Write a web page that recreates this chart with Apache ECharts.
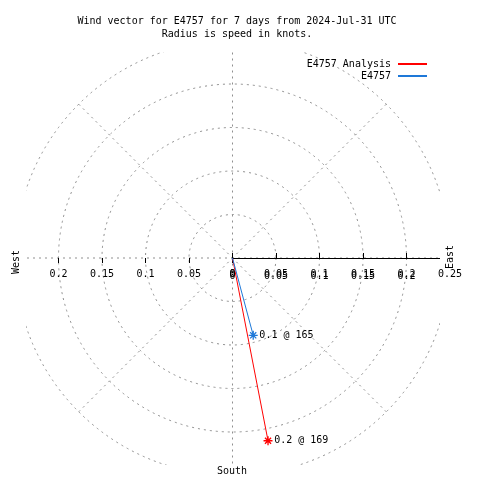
<!DOCTYPE html>
<html>
<head>
<meta charset="utf-8">
<script src="https://cdn.jsdelivr.net/npm/echarts@6/dist/echarts.min.js"></script>
<style>html,body{margin:0;padding:0;background:#fff}#c{width:480px;height:480px}</style>
</head>
<body>
<div id="c"></div>
<script>
// ---- data ----
const titleLines = ['Wind vector for E4757 for 7 days from 2024-Jul-31 UTC', 'Radius is speed in knots.'];
const seriesNames = ['E4757 Analysis', 'E4757'];
const speeds = [0.214, 0.092];      // knots
const directions = [169, 165];      // degrees, clockwise from north
const radiusMax = 0.25;
const radiusStep = 0.05;
const angleStep = 45;
const compassLabels = ['West', 'East', 'South'];

// ---- styling ----
const FONT = 'DejaVu Sans Mono';
const colors = ['#ff0000', '#1e78d8'];
const C = [232.5, 258];
const R = 217.5;
const gridColor = '#8f8f8f';
const asterisk = 'path://M5,0L5,10M0,5L10,5M1.6,1.6L8.4,8.4M1.6,8.4L8.4,1.6';

const hiddenAngle = (pi, start) => ({
  polarIndex: pi, type: 'value', min: 0, max: 360, startAngle: start,
  axisLine: {show: false}, axisTick: {show: false}, axisLabel: {show: false},
  splitLine: {show: false}, splitArea: {show: false}
});

const lblFmt = v => (v >= radiusMax - 1e-9 ? '' : String(+v.toFixed(2)));
const lblFmtAll = v => String(+v.toFixed(2));

const polars = [];
for (let i = 0; i < 6; i++) polars.push({center: C, radius: [0, R]});

const angleAxes = [
  { polarIndex: 0, type: 'value', min: 0, max: 360, interval: angleStep, startAngle: 90, clockwise: true,
    axisLine: {show: false}, axisTick: {show: false}, axisLabel: {show: false},
    splitLine: {show: true, lineStyle: {color: gridColor, type: [2, 4], width: 1}} },
  hiddenAngle(1, 0), hiddenAngle(2, 0), hiddenAngle(3, 0), hiddenAngle(4, 180), hiddenAngle(5, 180)
];

const baseR = (pi) => ({ polarIndex: pi, type: 'value', min: 0, max: radiusMax, interval: radiusStep,
  splitLine: {show: false}, splitArea: {show: false} });

const tickStyle = {color: '#000', width: 1};

const radiusAxes = [
  // grid circles
  Object.assign(baseR(0), { axisLine: {show: false}, axisTick: {show: false}, axisLabel: {show: false},
    splitLine: {show: true, lineStyle: {color: gridColor, type: [2, 4], width: 1}} }),
  // east solid axis, ticks up, labels copy 2
  Object.assign(baseR(1), { z: 0,
    axisLine: {show: true, lineStyle: {color: '#000', width: 1}},
    axisTick: {show: true, length: 4, lineStyle: tickStyle},
    axisLabel: {show: true, margin: -23, formatter: lblFmt, color: '#000', fontFamily: FONT, fontSize: 10} }),
  // east ticks down
  Object.assign(baseR(2), { z: 0, axisLine: {show: false},
    axisTick: {show: true, inside: true, length: 5, lineStyle: tickStyle},
    axisLabel: {show: false} }),
  // east labels copy 1 (above mask)
  Object.assign(baseR(3), { z: 3, axisLine: {show: false}, axisTick: {show: false},
    axisLabel: {show: true, margin: -21, formatter: lblFmtAll, color: '#000', fontFamily: FONT, fontSize: 10} }),
  // west ticks down + labels
  Object.assign(baseR(4), { z: 0, axisLine: {show: false},
    axisTick: {show: true, length: 5, lineStyle: tickStyle},
    axisLabel: {show: true, margin: 11, formatter: lblFmt, color: '#000', fontFamily: FONT, fontSize: 10} }),
  // west ticks up
  Object.assign(baseR(5), { z: 0, axisLine: {show: false},
    axisTick: {show: true, inside: true, length: 4, lineStyle: tickStyle},
    axisLabel: {show: false} })
];

const series = seriesNames.map((name, i) => ({
  name, type: 'line', coordinateSystem: 'polar', polarIndex: 0, z: 2,
  lineStyle: {color: colors[i], width: 1},
  itemStyle: {color: colors[i], borderColor: colors[i], borderWidth: 1.3},
  symbolSize: 9,
  animation: false,
  data: [
    {value: [0, 0], symbol: 'none'},
    {value: [speeds[i], directions[i]], symbol: asterisk,
     label: {show: true, position: 'right', distance: 1, color: '#000', fontFamily: FONT, fontSize: 10,
       formatter: p => p.value[0].toFixed(1) + ' @ ' + Math.round(p.value[1])}}
  ]
}));

const mask = (x, y, w, h) => ({type: 'rect', z: 1, silent: true, shape: {x, y, width: w, height: h}, style: {fill: '#fff'}});
const txt = (t, x, y, rot) => ({type: 'text', z: 10, x, y, rotation: rot || 0,
  style: {text: t, fill: '#000', font: '10px "' + FONT + '"', textAlign: 'center', textVerticalAlign: 'middle'}});

const chart = echarts.init(document.getElementById('c'));
chart.setOption({
  animation: false,
  backgroundColor: '#fff',
  title: {text: titleLines.join('\n'), left: 232, textAlign: 'center', top: 10, z: 6,
    textStyle: {fontFamily: FONT, fontSize: 10, fontWeight: 'normal', color: '#000', lineHeight: 13}},
  legend: {data: seriesNames, orient: 'vertical', align: 'right', right: 53, top: 58, padding: 0, itemGap: 0,
    icon: 'rect', itemWidth: 29, itemHeight: 2,
    itemStyle: {borderWidth: 0},
    textStyle: {fontFamily: FONT, fontSize: 10, color: '#000', lineHeight: 12, padding: [0, 2, 0, 0]}},
  polar: polars,
  angleAxis: angleAxes,
  radiusAxis: radiusAxes,
  series,
  graphic: [
    mask(0, 0, 480, 52), mask(0, 465, 480, 15), mask(0, 52, 26, 413), mask(440, 52, 40, 413),
    txt(compassLabels[0], 16, 262, Math.PI / 2),
    txt(compassLabels[1], 450, 257, Math.PI / 2),
    txt(compassLabels[2], 232, 471)
  ]
});
</script>
</body>
</html>
